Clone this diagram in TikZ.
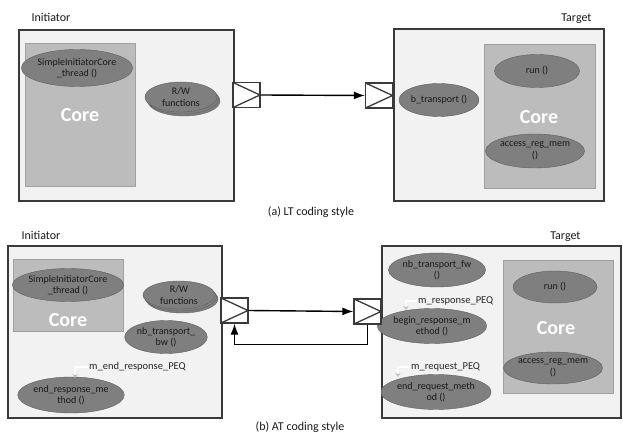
\documentclass[tikz,border=0pt]{standalone}
\usepackage{fontspec}
\setmainfont{Carlito}
\usetikzlibrary{arrows,arrows.meta,shapes,positioning,shadows,calc}
\definecolor{boxfill}{HTML}{F2F2F2}
\definecolor{boxline}{HTML}{3A3A3A}
\definecolor{corefill}{HTML}{BCBCBC}
\definecolor{funcfill}{HTML}{7F7F7F}
\tikzstyle{module}   = [rectangle, draw=boxline, fill=boxfill, line width=1.6pt, inner sep=0pt, anchor=north west]
\tikzstyle{core}     = [rectangle, draw=corefill!85!black, fill=corefill, line width=0.4pt, inner sep=0pt, anchor=north west]
\tikzstyle{func}     = [ellipse, draw=funcfill!75!black, fill=funcfill, line width=0.4pt, text=black!90,
    inner sep=0pt, align=center, font=\fontsize{10}{11.5}\selectfont]
\tikzstyle{coretext} = [text=white, font=\fontsize{20}{22}\selectfont\bfseries]
\tikzstyle{title}    = [font=\fontsize{12}{14}\selectfont, text=black!90]
\tikzstyle{peqlabel} = [font=\fontsize{10.5}{12}\selectfont, text=black!85, anchor=west, inner sep=0pt]
\tikzstyle{port}     = [rectangle, draw=boxline, fill=white, line width=1.3pt, minimum width=27pt, minimum height=25pt,
    path picture={\draw[boxline, line width=1.3pt] (path picture bounding box.north west) -- (path picture bounding box.east) -- (path picture bounding box.south west);}]
\tikzstyle{line}     = [draw, line width=1.4pt, -{Latex[length=11pt,width=8pt]}]
\tikzstyle{peq}      = [draw=gray!60, double=white, double distance=1.2pt, line width=0.5pt, -{Stealth[open,fill=white,length=4pt,width=5pt]}]

\begin{document}
\begin{tikzpicture}[x=1pt,y=-1pt]
    \useasboundingbox (0,0) rectangle (623,435);
    % (a) LT coding style
    \node [title, anchor=west] (initA) at (28,17) {Initiator};
    \node [module, minimum width=215pt, minimum height=171pt] (iniBoxA) at (18,29) {};
    \node [core, minimum width=110pt, minimum height=143pt] (iniCoreA) at (25,43) {};
    \node [func, minimum width=101pt, minimum height=37pt] (threadA) at (77,68) {SimpleInitiatorCore\\\_thread ()};
    \node [coretext] (iniCoreTxtA) at (80,115) {Core};
    \node [func, double copy shadow={shadow xshift=1.5pt, shadow yshift=-2pt}, minimum width=72pt, minimum height=30pt] (rwA) at (181,97) {R/W\\functions};
    \node [port] (portIA) at (246.5,95) {};

    \node [title, anchor=east] (tgtA) at (595,19) {Target};
    \node [module, minimum width=210pt, minimum height=172pt] (tgtBoxA) at (393,28) {};
    \node [core, minimum width=111pt, minimum height=144pt] (tgtCoreA) at (484,44) {};
    \node [func, minimum width=85pt, minimum height=33pt] (runA) at (537,71) {run ()};
    \node [coretext] (tgtCoreTxtA) at (539,117) {Core};
    \node [func, minimum width=91pt, minimum height=34pt] (accessA) at (535,151) {access\_reg\_mem\\()};
    \node [func, minimum width=78pt, minimum height=33pt] (btransA) at (439,100) {b\_transport ()};
    \node [port] (portTA) at (379,95.5) {};

    \path [line] (portIA.east) -- (portTA.west);
    \node [title] (capA) at (311,212) {(a) LT coding style};

    % (b) AT coding style
    \node [title, anchor=west] (initB) at (18,235) {Initiator};
    \node [module, minimum width=214pt, minimum height=172pt] (iniBoxB) at (7,245) {};
    \node [core, minimum width=110pt, minimum height=72pt] (iniCoreB) at (13,259) {};
    \node [func, minimum width=105pt, minimum height=33pt] (threadB) at (68,285) {SimpleInitiatorCore\\\_thread ()};
    \node [coretext] (iniCoreTxtB) at (68,320) {Core};
    \node [func, double copy shadow={shadow xshift=1.5pt, shadow yshift=-2pt}, minimum width=72pt, minimum height=28pt] (rwB) at (179,295) {R/W\\functions};
    \node [func, minimum width=77pt, minimum height=33pt] (nbbw) at (166,337) {nb\_transport\_\\bw ()};
    \node [peqlabel] (peqEndResp) at (89,367) {m\_end\_response\_PEQ};
    \node [func, minimum width=98pt, minimum height=36pt] (endResp) at (71,395) {end\_response\_me\\thod ()};
    \coordinate (peqEndRespTip) at (75,378);
    \draw [peq] (peqEndResp.west) -| (peqEndRespTip);
    \node [port] (portIB) at (234.5,310.5) {};

    \node [title, anchor=east] (tgtB) at (584,237) {Target};
    \node [module, minimum width=239pt, minimum height=172pt] (tgtBoxB) at (381,245) {};
    \node [core, minimum width=110pt, minimum height=133pt] (tgtCoreB) at (503,260) {};
    \node [func, minimum width=84pt, minimum height=32pt] (runB) at (555,287) {run ()};
    \node [coretext] (tgtCoreTxtB) at (556,328) {Core};
    \node [func, minimum width=91pt, minimum height=32pt] (accessB) at (553,368) {access\_reg\_mem\\()};
    \node [func, minimum width=92pt, minimum height=34pt] (nbfw) at (437,270) {nb\_transport\_fw\\()};
    \node [peqlabel] (peqResp) at (418,301) {m\_response\_PEQ};
    \node [func, minimum width=93pt, minimum height=35pt] (beginResp) at (432,326) {begin\_response\_m\\ethod ()};
    \coordinate (peqRespTip) at (406,310);
    \draw [peq] (peqResp.west) -| (peqRespTip);
    \node [peqlabel] (peqReq) at (411,367) {m\_request\_PEQ};
    \node [func, minimum width=102pt, minimum height=35pt] (endReq) at (436,392) {end\_request\_meth\\od ()};
    \coordinate (peqReqTip) at (398,377);
    \draw [peq] (peqReq.west) -| (peqReqTip);
    \node [port] (portTB) at (367.5,311.5) {};

    \path [line] (portIB.east) -- (portTB.west);
    \path [line] (portTB.south) -- ++(0,20) -| (portIB.south);
    \node [title] (capB) at (300,427) {(b) AT coding style};
\end{tikzpicture}
\end{document}
